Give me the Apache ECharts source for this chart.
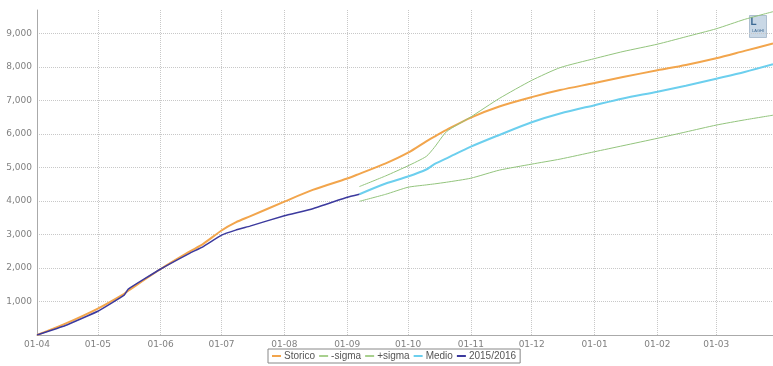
<!DOCTYPE html>
<html>
<head>
<meta charset="utf-8">
<script src="https://cdn.jsdelivr.net/npm/echarts@6/dist/echarts.min.js"></script>
<style>
  html, body { margin: 0; padding: 0; background: #fff; }
  #chart { width: 773px; height: 366px; }
</style>
</head>
<body>
<div id="chart"></div>
<script>
const dates = [
  '2015-04-01', '2015-04-15', '2015-05-01', '2015-05-14', '2015-05-16',
  '2015-06-01', '2015-06-15', '2015-06-22', '2015-07-01', '2015-07-08',
  '2015-07-15', '2015-08-01', '2015-08-15', '2015-09-01', '2015-09-07',
  '2015-09-20', '2015-10-01', '2015-10-10', '2015-10-14', '2015-10-20',
  '2015-11-01', '2015-11-15', '2015-12-01', '2015-12-15', '2016-01-01',
  '2016-01-15', '2016-02-01', '2016-02-15', '2016-03-01', '2016-03-15',
  '2016-03-29'
];
const storico = [
  0, 340, 790, 1230, 1320,
  1970, 2480, 2720, 3120, 3360,
  3540, 3980, 4330, 4670, 4810,
  5120, 5440, 5780, 5920, 6120,
  6490, 6820, 7100, 7310, 7520,
  7700, 7900, 8060, 8260, 8480,
  8700
];
const minusSigma = [
  null, null, null, null, null,
  null, null, null, null, null,
  null, null, null, null, 3990,
  4200, 4410, 4480, 4510, 4560,
  4680, 4920, 5100, 5250, 5470,
  5650, 5870, 6060, 6265, 6420,
  6560
];
const plusSigma = [
  null, null, null, null, null,
  null, null, null, null, null,
  null, null, null, null, 4430,
  4750, 5050, 5330, 5600, 6070,
  6510, 7060, 7600, 7980, 8250,
  8460, 8680, 8900, 9140, 9420,
  9650
];
const medio = [
  null, null, null, null, null,
  null, null, null, null, null,
  null, null, null, null, 4200,
  4520, 4730, 4940, 5100, 5270,
  5620, 5970, 6350, 6610, 6860,
  7060, 7260, 7440, 7650, 7850,
  8080
];
const corrente = [
  0, 285, 710, 1190, 1370,
  1970, 2430, 2640, 2980, 3130,
  3250, 3560, 3770, 4110, 4200,
  null, null, null, null, null,
  null, null, null, null, null,
  null, null, null, null, null,
  null
];
const names = ['Storico', '-sigma', '+sigma', 'Medio', '2015/2016'];

const pairs = vals => dates.map((d, i) => [d, vals[i] == null ? '-' : vals[i]]);
const pad = n => (n < 10 ? '0' : '') + n;

const chart = echarts.init(document.getElementById('chart'));
chart.setOption({
  animation: false,
  backgroundColor: '#fff',
  textStyle: { fontFamily: 'DejaVu Sans' },
  grid: { left: 37, right: 0, top: 10, bottom: 31 },
  legend: {
    data: names,
    left: 268,
    bottom: 3,
    icon: 'rect',
    itemWidth: 9,
    itemHeight: 2,
    itemGap: 4,
    padding: [2, 4],
    backgroundColor: '#fff',
    borderColor: '#888',
    borderWidth: 1,
    borderRadius: 0,
    textStyle: { fontFamily: 'Liberation Sans', fontSize: 10, color: '#555', padding: [0, 0, 0, -2] }
  },
  xAxis: {
    type: 'time',
    min: '2015-04-01',
    max: '2016-03-29',
    minInterval: 28 * 24 * 3600 * 1000,
    maxInterval: 31 * 24 * 3600 * 1000,
    axisLine: { lineStyle: { color: '#aaa' } },
    axisTick: { show: false },
    axisLabel: {
      fontSize: 9,
      color: '#808080',
      margin: 5,
      showMaxLabel: false,
      hideOverlap: false,
      formatter: v => {
        const d = new Date(v);
        return pad(d.getDate()) + '-' + pad(d.getMonth() + 1);
      }
    },
    splitLine: {
      show: true,
      showMinLine: false,
      showMaxLine: false,
      lineStyle: { color: '#c8c8c8', type: [1, 1] }
    }
  },
  yAxis: {
    type: 'value',
    min: 0,
    max: 9700,
    interval: 1000,
    axisLine: { show: true, lineStyle: { color: '#aaa' } },
    axisTick: { show: false },
    axisLabel: {
      fontSize: 9,
      color: '#808080',
      margin: 5,
      showMinLabel: false,
      showMaxLabel: false,
      formatter: v => v.toLocaleString('en-US')
    },
    splitLine: {
      showMinLine: false,
      showMaxLine: false,
      lineStyle: { color: '#c8c8c8', type: [1, 1] }
    }
  },
  series: [
    { name: names[0], type: 'line', data: pairs(storico), showSymbol: false, smooth: 0.3, lineStyle: { width: 2, color: '#f2a54c' }, itemStyle: { color: '#f2a54c' } },
    { name: names[1], type: 'line', data: pairs(minusSigma), showSymbol: false, smooth: 0.2, lineStyle: { width: 1, color: '#93c47d' }, itemStyle: { color: '#a8d08e' } },
    { name: names[2], type: 'line', data: pairs(plusSigma), showSymbol: false, smooth: 0.2, lineStyle: { width: 1, color: '#93c47d' }, itemStyle: { color: '#a8d08e' } },
    { name: names[3], type: 'line', data: pairs(medio), showSymbol: false, smooth: 0.3, lineStyle: { width: 2, color: '#6ccfee' }, itemStyle: { color: '#6ccfee' } },
    { name: names[4], type: 'line', data: pairs(corrente), showSymbol: false, smooth: 0.1, lineStyle: { width: 1.5, color: '#3c3a9e' }, itemStyle: { color: '#3c3a9e' } }
  ],
  graphic: [
    {
      type: 'group', right: 6, top: 15,
      children: [
        { type: 'rect', shape: { x: 0, y: 0, width: 17, height: 22 }, style: { fill: '#c9d8e6', stroke: '#aebfd0' } },
        { type: 'text', x: 8.5, y: 15, style: { text: 'LAGHI', fontSize: 4, fill: '#3d6a94', align: 'center', verticalAlign: 'middle' } },
        { type: 'text', x: 4, y: 7, style: { text: 'L', fontSize: 10, fontWeight: 'bold', fill: '#3d6a94', align: 'center', verticalAlign: 'middle' } }
      ]
    }
  ]
});
</script>
</body>
</html>
